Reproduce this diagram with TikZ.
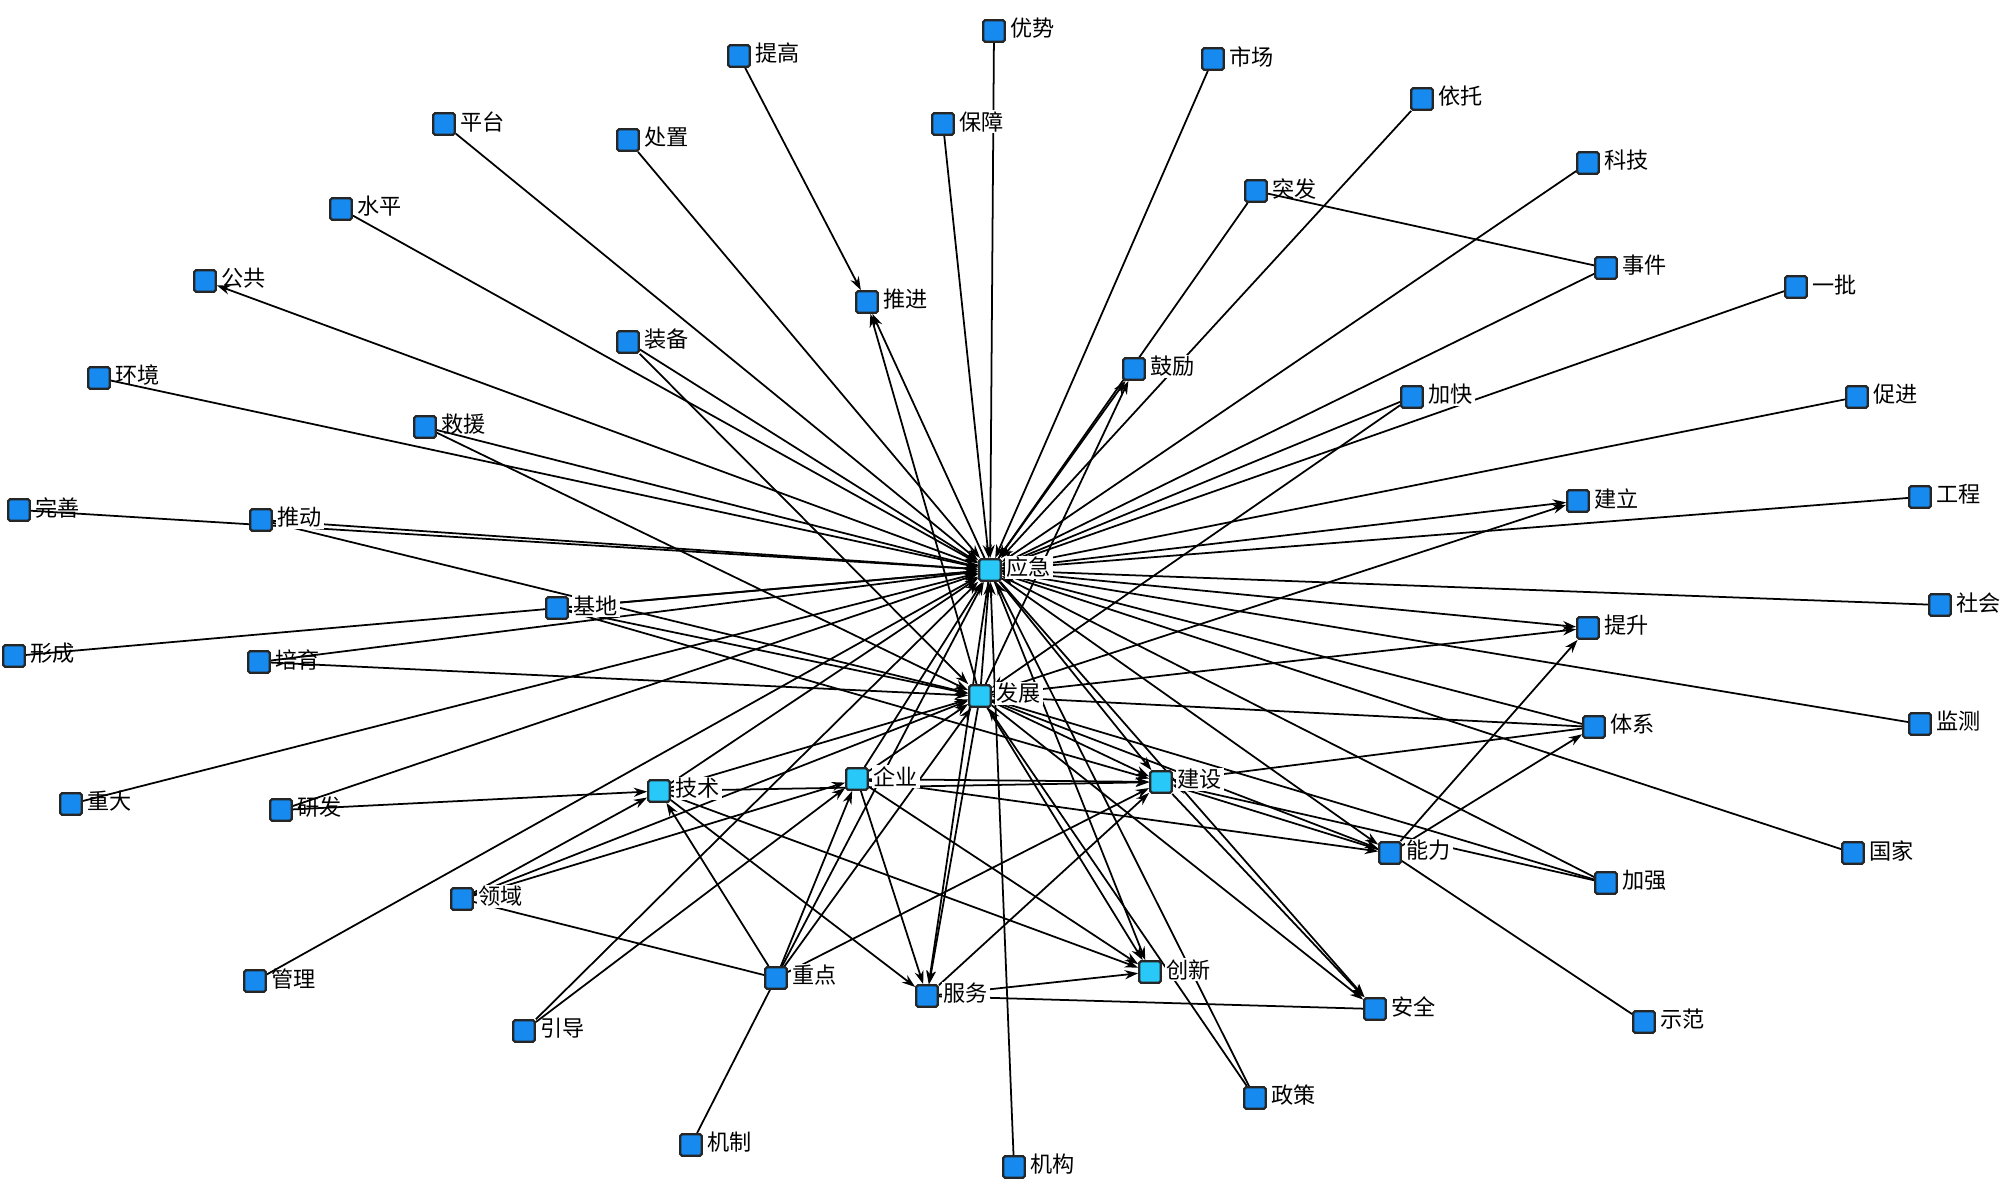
\documentclass[tikz,border=0pt]{standalone}
\usepackage{fontspec}
\newfontfamily\cjk{Noto Sans CJK SC}
\usetikzlibrary{arrows.meta,backgrounds}
\definecolor{nblue}{RGB}{22,138,238}
\definecolor{ncyan}{RGB}{40,200,248}
\tikzset{
 nbox/.style={draw=black!85, line width=0.65pt, fill=nblue, minimum size=6.1pt, inner sep=0pt, rounded corners=0.5pt},
 cbox/.style={nbox, fill=ncyan},
 lab/.style={anchor=west, inner sep=0.4pt, font=\cjk\fontsize{6.3}{6.3}\selectfont, xshift=0.8pt, yshift=0.7pt},
 flab/.style={lab, fill=white},
 edge/.style={line width=0.5pt, black},
 arr/.style={edge, -{Stealth[length=3.8pt,width=2.6pt]}},
}
\newcommand\mk[5][nbox]{\node[#1] (#2) at (#3,#4) {}; \node[lab] (#2-t) at (#2.east) {#5};}
\newcommand\mkf[5][nbox]{\node[#1] (#2) at (#3,#4) {}; \node[flab] (#2-t) at (#2.east) {#5};}
\begin{document}
\begin{tikzpicture}[x=0.01cm,y=-0.01cm]
\useasboundingbox (0,0) rectangle (2000,1200);
\mk{youshi}{994}{31}{优势}
\mk{tigao}{739}{56}{提高}
\mk{shichang}{1213}{59}{市场}
\mkf{baozhang}{943}{124}{保障}
\mk{pingtai}{444}{124}{平台}
\mk{chuzhi}{628}{140}{处置}
\mk{yituo}{1422}{99}{依托}
\mk{keji}{1588}{163}{科技}
\mk{tufa}{1256}{191}{突发}
\mk{shuiping}{341}{209}{水平}
\mk{shijian}{1606}{268}{事件}
\mk{gonggong}{205}{281}{公共}
\mk{tuijin}{867}{302}{推进}
\mk{yipi}{1796}{287}{一批}
\mk{zhuangbei}{628}{342}{装备}
\mkf{guli}{1134}{369}{鼓励}
\mk{huanjing}{99}{378}{环境}
\mkf{jiakuai}{1412}{397}{加快}
\mk{cujin}{1857}{397}{促进}
\mk{jiuyuan}{425}{427}{救援}
\mk{jianli}{1578}{501}{建立}
\mk{gongcheng}{1920}{497}{工程}
\mk{wanshan}{19}{510}{完善}
\mkf{tuidong}{261}{520}{推动}
\mkf[cbox]{yingji}{990}{570}{应急}
\mk{shehui}{1940}{605}{社会}
\mkf{jidi}{557}{608}{基地}
\mk{tisheng}{1588}{628}{提升}
\mk{xingcheng}{14}{656}{形成}
\mk{peiyu}{259}{662}{培育}
\mkf[cbox]{fazhan}{980}{696}{发展}
\mk{tixi}{1594}{727}{体系}
\mk{jiance}{1920}{724}{监测}
\mkf[cbox]{jishu}{659}{791}{技术}
\mkf[cbox]{qiye}{857}{779}{企业}
\mkf[cbox]{jianshe}{1161}{782}{建设}
\mk{zhongda}{71}{804}{重大}
\mk{yanfa}{281}{810}{研发}
\mkf{nengli}{1390}{853}{能力}
\mk{guojia}{1853}{853}{国家}
\mk{jiaqiang}{1606}{883}{加强}
\mkf{lingyu}{462}{899}{领域}
\mkf{zhongdian}{776}{978}{重点}
\mkf[cbox]{chuangxin}{1150}{972}{创新}
\mk{guanli}{255}{981}{管理}
\mkf{fuwu}{927}{996}{服务}
\mk{anquan}{1375}{1009}{安全}
\mk{yindao}{524}{1031}{引导}
\mk{shifan}{1644}{1022}{示范}
\mk{zhengce}{1255}{1098}{政策}
\mk{jizhi}{691}{1145}{机制}
\mk{jigou}{1014}{1167}{机构}
\begin{pgfonlayer}{background}
\fill[white] (0,0) rectangle (2000,1200);
\foreach \s in {youshi,baozhang,shichang,chuzhi,pingtai,shuiping,yituo,keji,tufa,shijian,yipi,huanjing,jiakuai,cujin,jiuyuan,gongcheng,wanshan,tuidong,shehui,jidi,xingcheng,peiyu,jiance,zhongda,yanfa,guojia,guanli,yindao,jigou,zhengce,zhuangbei,tixi,jiaqiang,jishu,qiye,zhongdian,fazhan}
  \draw[arr] (\s) -- (yingji);
\foreach \t in {gonggong,tuijin,guli,jianli,tisheng,nengli,fuwu,chuangxin,anquan,jianshe}
  \draw[arr] (yingji) -- (\t);
\draw[arr] (tigao) -- (tuijin);
\draw[edge] (tufa) -- (shijian);
\foreach \s in {zhuangbei,jiuyuan,tuidong,jidi,peiyu,jiakuai,tixi,jishu,qiye,lingyu,zhongdian,zhengce,jiaqiang}
  \draw[arr] (\s) -- (fazhan);
\foreach \t in {tuijin,guli,jianli,tisheng,fuwu,chuangxin,anquan,jianshe,nengli}
  \draw[arr] (fazhan) -- (\t);
\foreach \t in {jianshe,fuwu,chuangxin,nengli}
  \draw[arr] (qiye) -- (\t);
\foreach \s in {zhongdian,yindao,lingyu}
  \draw[arr] (\s) -- (qiye);
\foreach \t in {jianshe,fuwu,chuangxin}
  \draw[arr] (jishu) -- (\t);
\foreach \s in {yanfa,lingyu,zhongdian}
  \draw[arr] (\s) -- (jishu);
\draw[arr] (jianshe) -- (anquan);
\foreach \s in {tixi,nengli,jiaqiang,zhongdian,fuwu,jidi}
  \draw[arr] (\s) -- (jianshe);
\draw[arr] (nengli) -- (tixi);
\draw[arr] (nengli) -- (tisheng);
\draw[edge] (shifan) -- (nengli);
\draw[arr] (fuwu) -- (chuangxin);
\draw[edge] (fuwu) -- (anquan);
\draw[edge] (lingyu) -- (zhongdian);
\draw[edge] (jizhi) -- (zhongdian);
\end{pgfonlayer}
\end{tikzpicture}
\end{document}
